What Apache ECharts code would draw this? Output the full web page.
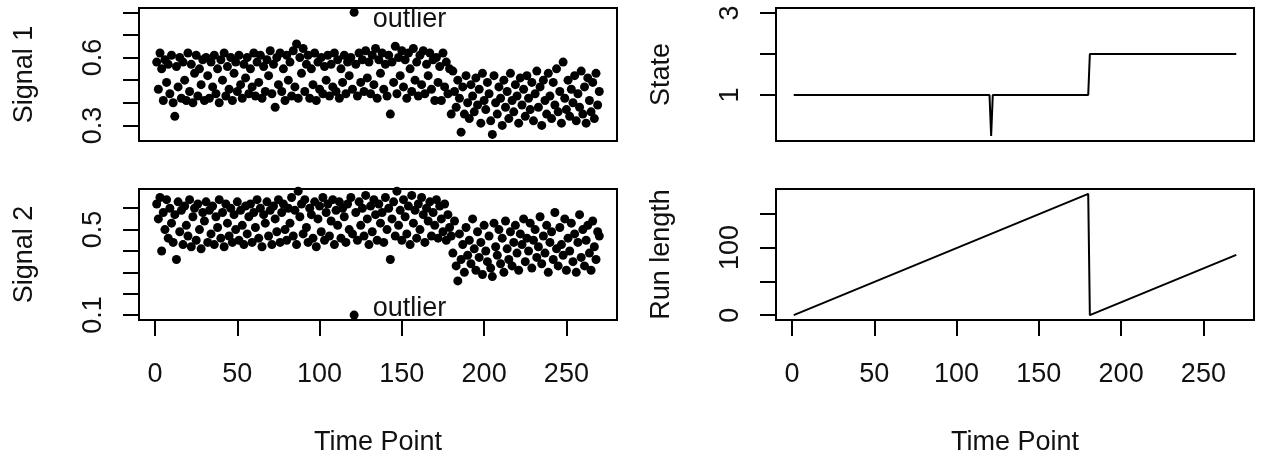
<!DOCTYPE html>
<html>
<head>
<meta charset="utf-8">
<title>Signals, state and run length</title>
<script src="https://cdn.jsdelivr.net/npm/echarts@6/dist/echarts.min.js"></script>
<style>
  html, body { margin: 0; padding: 0; background: #fff; }
  #chart { width: 1262px; height: 457px; }
</style>
</head>
<body>
<div id="chart"></div>
<script>
// signal values, one per time point (t = 1 .. 270)
var signal1 = [
  0.58, 0.46, 0.62, 0.55, 0.41, 0.59, 0.49, 0.57, 0.44, 0.61,
  0.40, 0.34, 0.56, 0.47, 0.60, 0.42, 0.58, 0.50, 0.41, 0.62,
  0.45, 0.57, 0.40, 0.53, 0.61, 0.43, 0.55, 0.48, 0.59, 0.41,
  0.60, 0.52, 0.42, 0.58, 0.47, 0.61, 0.44, 0.55, 0.40, 0.59,
  0.50, 0.62, 0.43, 0.56, 0.46, 0.60, 0.41, 0.53, 0.58, 0.45,
  0.61, 0.48, 0.42, 0.57, 0.51, 0.60, 0.44, 0.55, 0.47, 0.62,
  0.43, 0.58, 0.49, 0.61, 0.42, 0.56, 0.45, 0.59, 0.52, 0.63,
  0.44, 0.57, 0.38, 0.60, 0.48, 0.62, 0.45, 0.55, 0.41, 0.61,
  0.50, 0.58, 0.43, 0.63, 0.47, 0.66, 0.42, 0.60, 0.53, 0.64,
  0.45, 0.57, 0.61, 0.42, 0.55, 0.48, 0.62, 0.41, 0.58, 0.46,
  0.60, 0.44, 0.56, 0.50, 0.61, 0.43, 0.57, 0.47, 0.62, 0.45,
  0.59, 0.42, 0.55, 0.49, 0.61, 0.44, 0.58, 0.52, 0.60, 0.46,
  0.80, 0.57, 0.43, 0.62, 0.49, 0.59, 0.45, 0.63, 0.51, 0.58,
  0.44, 0.61, 0.48, 0.64, 0.42, 0.59, 0.53, 0.62, 0.46, 0.57,
  0.43, 0.61, 0.35, 0.58, 0.49, 0.65, 0.44, 0.60, 0.52, 0.63,
  0.47, 0.59, 0.42, 0.62, 0.55, 0.45, 0.64, 0.50, 0.58, 0.43,
  0.61, 0.48, 0.63, 0.44, 0.57, 0.52, 0.62, 0.46, 0.59, 0.41,
  0.60, 0.49, 0.56, 0.41, 0.62, 0.47, 0.58, 0.44, 0.55, 0.35,
  0.54, 0.45, 0.38, 0.50, 0.42, 0.27, 0.47, 0.35, 0.52, 0.40,
  0.33, 0.48, 0.43, 0.36, 0.51, 0.39, 0.46, 0.31, 0.53, 0.41,
  0.37, 0.49, 0.44, 0.32, 0.26, 0.52, 0.40, 0.35, 0.47, 0.42,
  0.30, 0.50, 0.38, 0.45, 0.33, 0.53, 0.41, 0.36, 0.48, 0.43,
  0.31, 0.51, 0.39, 0.46, 0.34, 0.52, 0.42, 0.37, 0.49, 0.32,
  0.44, 0.54, 0.38, 0.47, 0.30, 0.50, 0.41, 0.35, 0.53, 0.43,
  0.33, 0.49, 0.39, 0.55, 0.36, 0.45, 0.31, 0.58, 0.42, 0.37,
  0.50, 0.34, 0.46, 0.40, 0.52, 0.32, 0.44, 0.38, 0.54, 0.35,
  0.47, 0.31, 0.51, 0.41, 0.36, 0.49, 0.33, 0.53, 0.39, 0.45
];
var signal2 = [
  0.62, 0.55, 0.65, 0.40, 0.58, 0.50, 0.64, 0.46, 0.60, 0.53,
  0.44, 0.57, 0.36, 0.63, 0.49, 0.59, 0.43, 0.61, 0.52, 0.47,
  0.64, 0.42, 0.56, 0.60, 0.45, 0.62, 0.50, 0.41, 0.58, 0.54,
  0.63, 0.44, 0.59, 0.48, 0.61, 0.43, 0.56, 0.51, 0.64, 0.46,
  0.58, 0.42, 0.62, 0.53, 0.47, 0.60, 0.44, 0.57, 0.50, 0.63,
  0.45, 0.59, 0.52, 0.43, 0.61, 0.48, 0.56, 0.62, 0.44, 0.58,
  0.51, 0.64, 0.46, 0.60, 0.42, 0.57, 0.53, 0.63, 0.47, 0.59,
  0.43, 0.61, 0.55, 0.49, 0.64, 0.44, 0.58, 0.62, 0.50, 0.45,
  0.60, 0.53, 0.65, 0.47, 0.59, 0.43, 0.68, 0.56, 0.62, 0.48,
  0.64, 0.51, 0.44, 0.60, 0.57, 0.46, 0.63, 0.42, 0.55, 0.61,
  0.49, 0.65, 0.45, 0.58, 0.62, 0.47, 0.54, 0.64, 0.43, 0.59,
  0.52, 0.63, 0.46, 0.60, 0.56, 0.44, 0.62, 0.50, 0.65, 0.48,
  0.10, 0.58, 0.45, 0.63, 0.52, 0.60, 0.47, 0.66, 0.55, 0.43,
  0.61, 0.49, 0.64, 0.57, 0.45, 0.62, 0.53, 0.58, 0.44, 0.65,
  0.50, 0.60, 0.36, 0.55, 0.63, 0.47, 0.68, 0.52, 0.59, 0.45,
  0.64, 0.56, 0.48, 0.61, 0.43, 0.66, 0.53, 0.59, 0.46, 0.62,
  0.50, 0.65, 0.57, 0.44, 0.60, 0.54, 0.63, 0.47, 0.58, 0.52,
  0.64, 0.46, 0.61, 0.55, 0.49, 0.62, 0.45, 0.57, 0.51, 0.47,
  0.39, 0.54, 0.33, 0.26, 0.48, 0.36, 0.43, 0.30, 0.51, 0.38,
  0.45, 0.34, 0.55, 0.41, 0.31, 0.49, 0.37, 0.44, 0.29, 0.52,
  0.40, 0.35, 0.47, 0.32, 0.28, 0.53, 0.42, 0.38, 0.50, 0.34,
  0.46, 0.30, 0.54, 0.41, 0.36, 0.49, 0.33, 0.44, 0.52, 0.39,
  0.31, 0.48, 0.43, 0.55, 0.35, 0.46, 0.40, 0.53, 0.32, 0.45,
  0.50, 0.37, 0.42, 0.56, 0.34, 0.47, 0.39, 0.52, 0.30, 0.44,
  0.49, 0.36, 0.58, 0.41, 0.33, 0.51, 0.43, 0.38, 0.55, 0.31,
  0.46, 0.40, 0.53, 0.35, 0.48, 0.30, 0.44, 0.57, 0.37, 0.50,
  0.33, 0.45, 0.52, 0.39, 0.31, 0.54, 0.42, 0.36, 0.49, 0.47
];
var outlierTime = 121;

// state and run length: vertices of the lines
var stateTime = [1, 120, 121, 122, 180, 181, 270];
var stateValue = [1, 1, 0, 1, 1, 2, 2];
var runTime = [1, 180, 181, 270];
var runValue = [0, 179, 0, 89];

// ticks
var timeTicks = [0, 50, 100, 150, 200, 250];
var sig1Ticks = [0.3, 0.4, 0.5, 0.6, 0.7, 0.8];
var sig1Labels = [0.3, 0.6];
var sig2Ticks = [0.1, 0.2, 0.3, 0.4, 0.5, 0.6];
var sig2Labels = [0.1, 0.5];
var stateTicks = [1, 2, 3];
var stateLabels = [1, 3];
var runTicks = [0, 50, 100, 150];
var runLabels = [0, 100];

var FONT = '"Liberation Sans", Arial, sans-serif';
var TXT = '#111';

function pairs(xs, ys) {
  return xs.map(function (x, i) { return [x, ys[i]]; });
}
function signalData(vals, labelOffsetY) {
  return vals.map(function (v, i) {
    var t = i + 1;
    if (t === outlierTime) {
      return {
        value: [t, v],
        label: {
          show: true, position: 'right', distance: 14, offset: [0, labelOffsetY],
          formatter: 'outlier', fontSize: 27, fontFamily: FONT, color: TXT
        }
      };
    }
    return [t, v];
  });
}

function xAxis(grid, show) {
  return {
    type: 'value', gridIndex: grid, min: -9.76, max: 280.76,
    splitLine: { show: false },
    axisLine: { show: false, onZero: false },
    axisTick: { show: show, length: 16, customValues: timeTicks, lineStyle: { color: '#000', width: 2 } },
    axisLabel: { show: show, customValues: timeTicks, margin: 41, fontSize: 27, fontFamily: FONT, color: TXT },
    name: show ? 'Time Point' : '', nameLocation: 'middle', nameGap: 109,
    nameTextStyle: { fontSize: 27, fontFamily: FONT, color: TXT }
  };
}
function yAxis(grid, min, max, ticks, labels, name) {
  return {
    type: 'value', gridIndex: grid, min: min, max: max,
    splitLine: { show: false },
    axisLine: { show: false, onZero: false },
    axisTick: { length: 16, customValues: ticks, lineStyle: { color: '#000', width: 2 } },
    axisLabel: {
      customValues: labels, rotate: 90, margin: 32, fontSize: 27, fontFamily: FONT, color: TXT,
      formatter: function (v) { return String(v); }
    },
    name: name, nameLocation: 'middle', nameGap: 101, nameRotate: 90,
    nameTextStyle: { fontSize: 27, fontFamily: FONT, color: TXT }
  };
}

var chart = echarts.init(document.getElementById('chart'));
var gridBase = { show: true, borderColor: '#000', borderWidth: 2, backgroundColor: 'transparent' };

var option = {
  animation: false,
  backgroundColor: '#fff',
  grid: [
    Object.assign({ left: 139, top: 8, width: 478, height: 133 }, gridBase),
    Object.assign({ left: 139, top: 189, width: 478, height: 133 }, gridBase),
    Object.assign({ left: 776, top: 8, width: 478, height: 133 }, gridBase),
    Object.assign({ left: 776, top: 189, width: 478, height: 133 }, gridBase)
  ],
  xAxis: [xAxis(0, false), xAxis(1, true), xAxis(2, false), xAxis(3, true)],
  yAxis: [
    yAxis(0, 0.231, 0.819, sig1Ticks, sig1Labels, 'Signal 1'),
    yAxis(1, 0.077, 0.69, sig2Ticks, sig2Labels, 'Signal 2'),
    yAxis(2, -0.12, 3.12, stateTicks, stateLabels, 'State'),
    yAxis(3, -7.16, 186.2, runTicks, runLabels, 'Run length')
  ],
  series: [
    {
      type: 'scatter', xAxisIndex: 0, yAxisIndex: 0, symbolSize: 9,
      itemStyle: { color: '#000', opacity: 1 }, data: signalData(signal1, 7)
    },
    {
      type: 'scatter', xAxisIndex: 1, yAxisIndex: 1, symbolSize: 9,
      itemStyle: { color: '#000', opacity: 1 }, data: signalData(signal2, -7)
    },
    {
      type: 'line', xAxisIndex: 2, yAxisIndex: 2, showSymbol: false,
      lineStyle: { color: '#000', width: 2 }, data: pairs(stateTime, stateValue)
    },
    {
      type: 'line', xAxisIndex: 3, yAxisIndex: 3, showSymbol: false,
      lineStyle: { color: '#000', width: 2 }, data: pairs(runTime, runValue)
    }
  ]
};
chart.setOption(option);
</script>
</body>
</html>
